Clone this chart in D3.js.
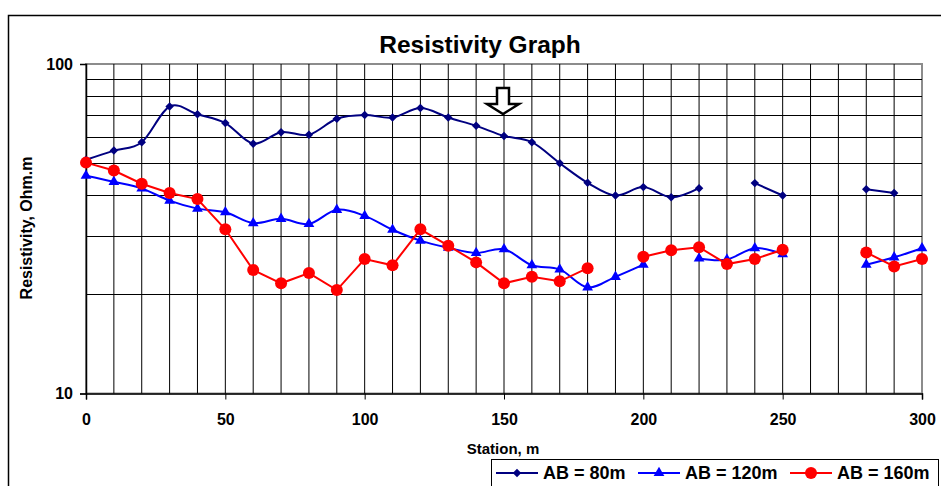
<!DOCTYPE html>
<html>
<head>
<meta charset="utf-8">
<script src="https://cdn.jsdelivr.net/npm/d3@7"></script>
<style>
  body { margin: 0; background: #fff; }
  text { font-family: "Liberation Sans", Arial, sans-serif; font-weight: bold; fill: #000; }
</style>
</head>
<body>
<svg width="941" height="486"></svg>
<script>
// station positions along the line (m)
var stations = d3.range(0, 301, 10);

// apparent resistivity readings, null = no reading
var ab80 = [51.2, 54.6, 57.9, 74.3, 70.4, 66.2, 57.3, 62.1, 61.0, 68.2, 70.0, 68.8, 73.5, 68.8, 64.9, 60.5,
            57.9, 50.0, 43.6, 39.9, 42.3, 39.4, 42.0, null, 43.5, 39.9, null, null, 41.7, 40.6, null];
var ab120 = [45.8, 43.9, 41.9, 38.5, 36.4, 35.5, 32.9, 33.9, 32.7, 36.1, 34.6, 31.4, 29.1, 27.7, 26.7, 27.4,
             24.5, 23.8, 21.0, 22.6, 24.6, null, 25.7, 25.5, 27.6, 26.5, null, null, 24.6, 25.9, 27.6];
var ab160 = [50.2, 47.5, 43.3, 40.6, 38.9, 31.5, 23.7, 21.6, 23.2, 20.6, 25.6, 24.5, 31.5, 28.1, 25.0, 21.6,
             22.6, 21.9, 24.0, null, 26.0, 27.2, 27.8, 24.7, 25.6, 27.3, null, null, 26.8, 24.3, 25.6];

var seriesNames = ["AB = 80m", "AB = 120m", "AB = 160m"];
var xTicks = [0, 50, 100, 150, 200, 250, 300];
var yTicks = [10, 100];
var yGrid = [20, 30, 40, 50, 60, 70, 80, 90];
var arrowAt = 150; // marked station

var svg = d3.select("svg");

var x = d3.scaleLinear().domain([0, 300]).range([86, 922]);
var y = d3.scaleLog().domain([10, 100]).range([393.5, 64]);

// outer chart frame (runs off the picture on right/bottom)
svg.append("rect")
  .attr("x", 8.5).attr("y", 15.5)
  .attr("width", 1000).attr("height", 600)
  .attr("fill", "none").attr("stroke", "#000").attr("stroke-width", 1.5);

svg.append("text")
  .attr("x", 480).attr("y", 53)
  .attr("text-anchor", "middle")
  .style("font-size", "24.5px")
  .text("Resistivity Graph");

// plot area border
svg.append("rect")
  .attr("x", 86).attr("y", 64)
  .attr("width", 836).attr("height", 329.5)
  .attr("fill", "#fff").attr("stroke", "#8c8c8c").attr("stroke-width", 2);

// grid
svg.append("g").selectAll("line")
  .data(d3.range(10, 300, 10))
  .enter().append("line")
    .attr("x1", function(d) { return x(d); })
    .attr("x2", function(d) { return x(d); })
    .attr("y1", 64).attr("y2", 393.5)
    .attr("stroke", "#000").attr("stroke-width", 1);

svg.append("g").selectAll("line")
  .data(yGrid)
  .enter().append("line")
    .attr("x1", 86).attr("x2", 922)
    .attr("y1", function(d) { return Math.round(y(d)) + 0.5; })
    .attr("y2", function(d) { return Math.round(y(d)) + 0.5; })
    .attr("stroke", "#000").attr("stroke-width", 1);

// axes
var xAxis = d3.axisBottom(x).tickValues(xTicks).tickSize(6).tickFormat(d3.format("d"));
var gx = svg.append("g").attr("transform", "translate(0,393.5)").call(xAxis);
gx.select(".domain").attr("stroke", "#000").attr("stroke-width", 1.5);
gx.selectAll(".tick line").attr("stroke", "#000");
gx.selectAll(".tick text")
  .attr("y", 20).attr("dy", "0.71em")
  .style("font-size", "16px").style("font-family", "Liberation Sans, Arial, sans-serif").style("font-weight", "bold");

var yAxis = d3.axisLeft(y).tickValues(yTicks).tickSize(6).tickFormat(d3.format("d"));
var gy = svg.append("g").attr("transform", "translate(86,0)").call(yAxis);
gy.select(".domain").attr("stroke", "#000").attr("stroke-width", 1.5);
gy.selectAll(".tick line").attr("stroke", "#000");
gy.selectAll(".tick text")
  .attr("x", -13)
  .style("font-size", "16px").style("font-family", "Liberation Sans, Arial, sans-serif").style("font-weight", "bold");

svg.append("text")
  .attr("x", 503).attr("y", 454)
  .attr("text-anchor", "middle")
  .style("font-size", "15px")
  .text("Station, m");

svg.append("text")
  .attr("transform", "translate(32,228) rotate(-90)")
  .attr("text-anchor", "middle")
  .style("font-size", "16px")
  .text("Resistivity, Ohm.m");

// hollow arrow over the marked station
var ax = x(arrowAt) - 1;
svg.append("path")
  .attr("d", "M" + (ax - 6) + ",88 h12 v16 h10 l-16,10 l-16,-10 h10 z")
  .attr("fill", "#fff").attr("stroke", "#000").attr("stroke-width", 2.5)
  .attr("stroke-linejoin", "miter");

// series
var series = [
  { name: seriesNames[0], values: ab80, color: "#000080", curve: d3.curveCardinal.tension(0), marker: "diamond" },
  { name: seriesNames[1], values: ab120, color: "#0000ff", curve: d3.curveCardinal.tension(0), marker: "triangle" },
  { name: seriesNames[2], values: ab160, color: "#ff0000", curve: d3.curveLinear, marker: "circle" }
];

function drawMarker(g, type, color) {
  if (type === "circle") {
    g.append("circle").attr("r", 6).attr("fill", color);
  } else if (type === "triangle") {
    g.append("path").attr("d", d3.symbol(d3.symbolTriangle, 50)()).attr("fill", color);
  } else {
    g.append("path").attr("d", d3.symbol(d3.symbolSquare, 36)())
      .attr("transform", "rotate(45)").attr("fill", color);
  }
}

series.forEach(function(s) {
  var pts = stations.map(function(st, i) { return { x: st, v: s.values[i] }; });
  var line = d3.line()
    .defined(function(d) { return d.v != null; })
    .x(function(d) { return x(d.x); })
    .y(function(d) { return y(d.v); })
    .curve(s.curve);

  svg.append("path")
    .datum(pts)
    .attr("d", line)
    .attr("fill", "none")
    .attr("stroke", s.color)
    .attr("stroke-width", 2);

  svg.append("g").selectAll("g")
    .data(pts.filter(function(d) { return d.v != null; }))
    .enter().append("g")
      .attr("transform", function(d) { return "translate(" + x(d.x) + "," + y(d.v) + ")"; })
      .each(function() { drawMarker(d3.select(this), s.marker, s.color); });
});

// legend
svg.append("rect")
  .attr("x", 491.5).attr("y", 459.5)
  .attr("width", 447).attr("height", 60)
  .attr("fill", "#fff").attr("stroke", "#000").attr("stroke-width", 1);

var legendX = [496, 638, 790];
var legend = svg.selectAll(".legend-item")
  .data(series)
  .enter().append("g")
    .attr("class", "legend-item")
    .attr("transform", function(d, i) { return "translate(" + legendX[i] + ",473)"; });

legend.append("line")
  .attr("x1", 0).attr("x2", 42)
  .attr("stroke", function(d) { return d.color; })
  .attr("stroke-width", 2);

legend.append("g")
  .attr("transform", "translate(21,0)")
  .each(function(d) { drawMarker(d3.select(this), d.marker, d.color); });

legend.append("text")
  .attr("x", 47).attr("y", 6)
  .style("font-size", "18px")
  .text(function(d) { return d.name; });
</script>
</body>
</html>
